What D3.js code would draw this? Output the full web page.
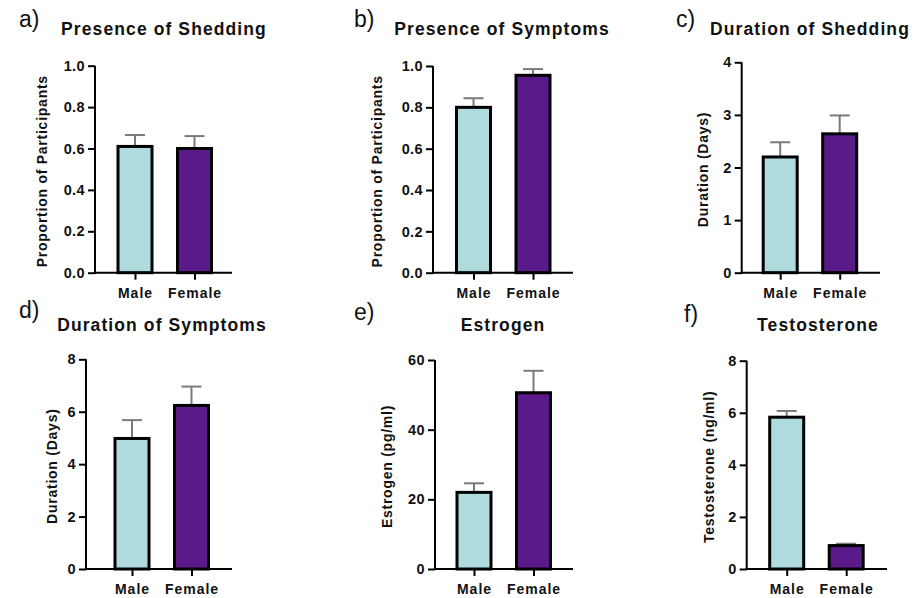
<!DOCTYPE html>
<html lang="en">
<head>
  <title>Sex differences panels</title>
  <meta charset="UTF-8">
  <style>
    body { margin: 0; background: #fff; font-family: "Liberation Sans", Arial, sans-serif; }
  </style>
  <script src="https://cdn.jsdelivr.net/npm/d3@7"></script>
</head>
<body>
<script>
  // data
  var categories = ["Male", "Female"];
  var letters = ["a)", "b)", "c)", "d)", "e)", "f)"];
  var titles = ["Presence of Shedding", "Presence of Symptoms", "Duration of Shedding",
                "Duration of Symptoms", "Estrogen", "Testosterone"];
  var yLabels = ["Proportion of Participants", "Proportion of Participants", "Duration (Days)",
                 "Duration (Days)", "Estrogen (pg/ml)", "Testosterone (ng/ml)"];
  var yMax = [1, 1, 4, 8, 60, 8];
  var yTicks = [[0, 0.2, 0.4, 0.6, 0.8, 1.0], [0, 0.2, 0.4, 0.6, 0.8, 1.0], [0, 1, 2, 3, 4],
                [0, 2, 4, 6, 8], [0, 20, 40, 60], [0, 2, 4, 6, 8]];
  var tickFormats = [".1f", ".1f", "d", "d", "d", "d"];
  var means = [[0.61, 0.60], [0.80, 0.955], [2.2, 2.64], [4.98, 6.24], [22.0, 50.6], [5.83, 0.90]];
  var errors = [[0.055, 0.06], [0.044, 0.03], [0.28, 0.35], [0.7, 0.72], [2.6, 6.3], [0.24, 0.07]];

  var cyan = "#b0dbde";
  var purple = "#5a1a8a";
  var font = "'Liberation Sans', Arial, sans-serif";

  // panel placement (pixels)
  var layout = [
    {ax: 95,    top: 65.7,  bot: 272.7, xEnd: 232, off: 40,   tx: 164, ty: 35,  lx: 19,  ly: 27,  yl: 43},
    {ax: 433,   top: 66,    bot: 272.7, xEnd: 573, off: 40.5, tx: 502, ty: 35,  lx: 354, ly: 27,  yl: 378},
    {ax: 741.7, top: 62.3,  bot: 272.7, xEnd: 880, off: 38.5, tx: 810, ty: 35,  lx: 676, ly: 27,  yl: 704},
    {ax: 86,    top: 359.3, bot: 569,   xEnd: 232, off: 46,   tx: 162, ty: 331, lx: 19,  ly: 318, yl: 53},
    {ax: 435,   top: 360,   bot: 569,   xEnd: 573, off: 39,   tx: 503, ty: 331, lx: 354, ly: 320, yl: 388},
    {ax: 746.7, top: 360.7, bot: 569,   xEnd: 887, off: 40,   tx: 818, ty: 331, lx: 684, ly: 322, yl: 710}
  ];

  var svg = d3.select("body").append("svg")
    .attr("width", 913)
    .attr("height", 598);

  titles.forEach(function(title, i) {
    var L = layout[i];
    var g = svg.append("g");

    var y = d3.scaleLinear().domain([0, yMax[i]]).range([L.bot, L.top]);
    var x = d3.scalePoint().domain(categories).range([L.ax + L.off, L.ax + L.off + 59.5]);
    var barW = 34;

    var rows = categories.map(function(c, j) {
      return {cat: c, mean: means[i][j], err: errors[i][j], color: j === 0 ? cyan : purple};
    });

    // error bars (upper only), behind the bars
    var eb = g.append("g").attr("stroke", "#7a7a7a").attr("stroke-width", 2);
    eb.selectAll("line.v").data(rows).enter().append("line")
      .attr("x1", function(d) { return x(d.cat); })
      .attr("x2", function(d) { return x(d.cat); })
      .attr("y1", function(d) { return y(d.mean); })
      .attr("y2", function(d) { return y(d.mean + d.err); });
    eb.selectAll("line.c").data(rows).enter().append("line")
      .attr("x1", function(d) { return x(d.cat) - 10; })
      .attr("x2", function(d) { return x(d.cat) + 10; })
      .attr("y1", function(d) { return y(d.mean + d.err); })
      .attr("y2", function(d) { return y(d.mean + d.err); });

    g.selectAll("rect").data(rows).enter().append("rect")
      .attr("x", function(d) { return x(d.cat) - barW / 2; })
      .attr("y", function(d) { return y(d.mean); })
      .attr("width", barW)
      .attr("height", function(d) { return y(0) - y(d.mean); })
      .attr("fill", function(d) { return d.color; })
      .attr("stroke", "#000")
      .attr("stroke-width", 3);

    // y axis
    var yAxis = g.append("g")
      .attr("transform", "translate(" + L.ax + ",0)")
      .call(d3.axisLeft(y).tickValues(yTicks[i]).tickFormat(d3.format(tickFormats[i]))
        .tickSize(7).tickSizeOuter(0).tickPadding(3));
    yAxis.select(".domain").attr("stroke-width", 2).attr("d", "M0," + (L.bot + 1) + "V" + L.top);
    yAxis.selectAll(".tick line").attr("stroke-width", 2);
    yAxis.selectAll("text").attr("font-size", 14.5).attr("font-weight", "bold")
      .attr("fill", "#111").style("font-family", font).style("letter-spacing", "0.4px");

    // x axis
    var xAxis = g.append("g")
      .attr("transform", "translate(0," + L.bot + ")")
      .call(d3.axisBottom(x).tickSize(7).tickSizeOuter(0).tickPadding(8));
    xAxis.select(".domain").remove();
    xAxis.append("line")
      .attr("x1", L.ax - 1).attr("x2", L.xEnd)
      .attr("stroke", "#000").attr("stroke-width", 2);
    xAxis.selectAll(".tick line").attr("stroke-width", 2);
    xAxis.selectAll("text").attr("font-size", 14).attr("font-weight", "bold")
      .attr("fill", "#111").style("font-family", font).style("letter-spacing", "1px");

    // axis title
    g.append("text")
      .attr("transform", "translate(" + L.yl + "," + ((L.top + L.bot) / 2 + 2) + ") rotate(-90)")
      .attr("text-anchor", "middle")
      .attr("dominant-baseline", "middle")
      .attr("font-size", 14)
      .attr("font-weight", "bold")
      .attr("fill", "#111")
      .style("letter-spacing", "0.75px")
      .text(yLabels[i]);

    // panel title and letter
    g.append("text")
      .attr("x", L.tx).attr("y", L.ty)
      .attr("text-anchor", "middle")
      .attr("font-size", 17.5)
      .attr("font-weight", "bold")
      .attr("fill", "#111")
      .style("letter-spacing", "1.1px")
      .text(title);

    g.append("text")
      .attr("x", L.lx).attr("y", L.ly)
      .attr("font-size", 23)
      .attr("fill", "#111")
      .text(letters[i]);
  });
</script>
</body>
</html>
